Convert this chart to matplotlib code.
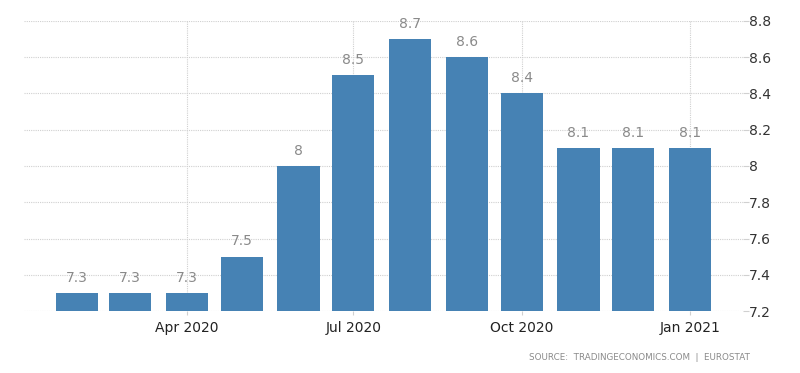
import matplotlib
matplotlib.use('Agg')
import matplotlib.pyplot as plt
import matplotlib.dates as mdates
import pandas as pd

months = ['2020-02', '2020-03', '2020-04', '2020-05', '2020-06', '2020-07',
          '2020-08', '2020-09', '2020-10', '2020-11', '2020-12', '2021-01']
values = [7.3, 7.3, 7.3, 7.5, 8.0, 8.5, 8.7, 8.6, 8.4, 8.1, 8.1, 8.1]
labels = ['7.3', '7.3', '7.3', '7.5', '8', '8.5', '8.7', '8.6', '8.4', '8.1', '8.1', '8.1']
yticks = [7.2, 7.4, 7.6, 7.8, 8.0, 8.2, 8.4, 8.6, 8.8]
ytick_labels = ['7.2', '7.4', '7.6', '7.8', '8', '8.2', '8.4', '8.6', '8.8']

def main():
	dates = pd.to_datetime(months)
	fig = plt.figure(figsize=(8, 3.73), dpi=100)
	ax = fig.add_axes([0.03, 0.166, 0.899, 0.778])

	base = 7.2
	heights = [v - base for v in values]
	ax.bar(dates, heights, bottom=base, width=23, color='#4682b4', zorder=3)

	for d, v, lab in zip(dates, values, labels):
		ax.annotate(lab, (d, v), xytext=(0, 6), textcoords='offset points',
		            ha='center', va='bottom', fontsize=10, color='#8a8a8a')

	ax.set_ylim(7.2, 8.8)
	ax.set_yticks(yticks)
	ax.set_yticklabels(ytick_labels)
	ax.yaxis.tick_right()
	ax.set_xlim(pd.Timestamp('2020-01-03'), pd.Timestamp('2021-01-30'))
	ax.xaxis.set_major_locator(mdates.MonthLocator(bymonth=[1, 4, 7, 10]))
	ax.xaxis.set_major_formatter(mdates.DateFormatter('%b %Y'))

	ax.grid(True, color='#d0d0d0', linestyle=(0, (1, 1)), linewidth=0.8, zorder=0)
	for s in ax.spines.values():
		s.set_visible(False)
	ax.tick_params(axis='y', length=4, color='#d0d0d0', labelsize=10,
	               labelcolor='#333333', pad=0)
	ax.tick_params(axis='x', length=3, color='#d0d0d0', labelsize=10,
	               labelcolor='#222222', pad=4)

	fig.text(0.938, 0.042, 'SOURCE:  TRADINGECONOMICS.COM  |  EUROSTAT',
	         ha='right', va='center', fontsize=6.3, color='#8a8a8a')

	fig.savefig('out.png', dpi=100)

if __name__ == '__main__':
	main()
